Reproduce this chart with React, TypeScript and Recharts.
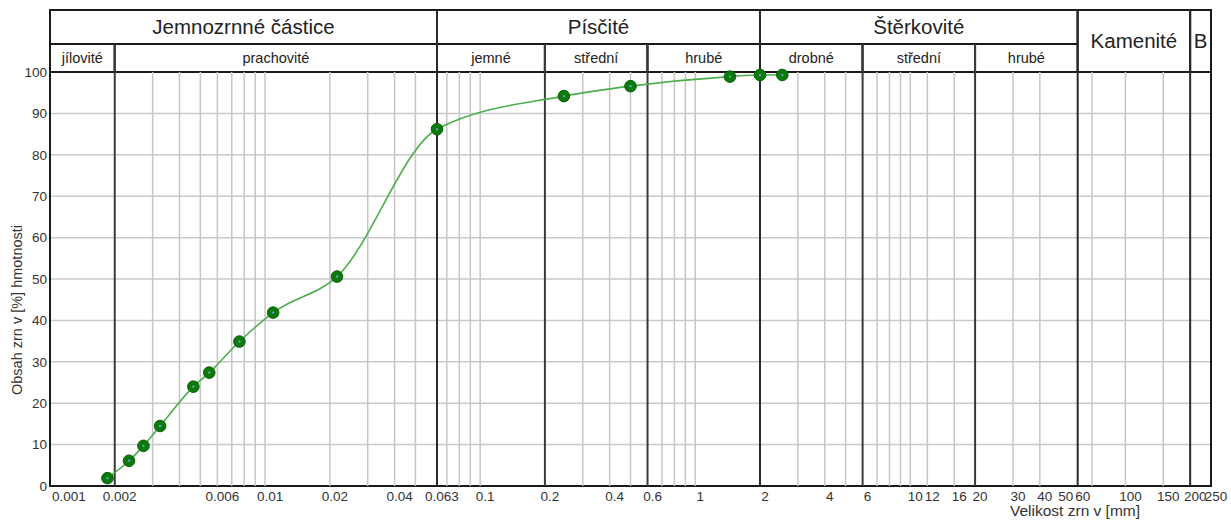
import {
  CartesianGrid,
  Line,
  LineChart,
  ReferenceArea,
  ReferenceLine,
  XAxis,
  YAxis,
} from "recharts";

// grain size [mm] and passing [% by mass]
const grainSizes = [
  0.00185, 0.00233, 0.00272, 0.00325, 0.00464, 0.0055, 0.0076, 0.0109, 0.0216,
  0.063, 0.245, 0.5, 1.45, 2, 2.54,
];
const passing = [
  1.9, 6.1, 9.7, 14.5, 24.0, 27.4, 34.9, 41.9, 50.6, 86.2, 94.2, 96.6, 98.9,
  99.3, 99.3,
];

const xTicks = [
  0.001, 0.002, 0.006, 0.01, 0.02, 0.04, 0.063, 0.1, 0.2, 0.4, 0.6, 1, 2, 4, 6,
  10, 12, 16, 20, 30, 40, 50, 60, 100, 150, 200, 250,
];
const yTicks = [0, 10, 20, 30, 40, 50, 60, 70, 80, 90, 100];

const minorLines = [
  0.003, 0.004, 0.005, 0.006, 0.007, 0.008, 0.009, 0.01, 0.02, 0.03, 0.04, 0.05,
  0.07, 0.08, 0.09, 0.1, 0.3, 0.4, 0.5, 0.7, 0.8, 0.9, 1, 3, 4, 5, 7, 8, 9, 10,
  12, 16, 30, 40, 70, 100, 150,
];
// boundaries that stop at the sub-header row / run through the whole header
const subBoundaries = [0.002, 0.2, 0.6, 6, 20];
const mainBoundaries = [0.063, 2, 60, 200];

const mainGroups = ["Jemnozrnné  částice", "Písčité", "Štěrkovité"];
const mainBounds = [
  [0.001, 0.063],
  [0.063, 2],
  [2, 60],
];
const subGroups = [
  "jílovité",
  "prachovité",
  "jemné",
  "střední",
  "hrubé",
  "drobné",
  "střední",
  "hrubé",
];
const subBounds = [
  [0.001, 0.002],
  [0.002, 0.063],
  [0.063, 0.2],
  [0.2, 0.6],
  [0.6, 2],
  [2, 6],
  [6, 20],
  [20, 60],
];
const tallGroups = ["Kamenité", "B"];
const tallBounds = [
  [60, 200],
  [200, 250],
];

const HEADER_TOP = 115;
const HEADER_MID = 106.8;
const X_MIN = 0.001;
const X_MAX = 250;

const data = grainSizes.map((size, i) => ({ size, pct: passing[i] }));

const FONT = '"Liberation Sans", Arial, sans-serif';
const INK = "#222";

function XTick({ x, y, payload, index }: any) {
  const first = index === 0;
  return (
    <text
      x={first ? x + 2 : x + 5}
      y={y}
      dy="0.8em"
      textAnchor={first ? "start" : "middle"}
      fontSize={13.5}
      fill="#333"
    >
      {String(payload.value)}
    </text>
  );
}

function Dot({ cx, cy, index }: any) {
  if (cx == null || cy == null) return null;
  return (
    <g key={index}>
      <circle cx={cx} cy={cy} r={5.8} fill="#0a7a0a" stroke="#066006" strokeWidth={1} />
      <circle cx={cx} cy={cy} r={1.2} fill="#6a9cc0" />
    </g>
  );
}

export default function App() {
  return (
    <div
      style={{
        position: "absolute",
        left: 0,
        top: 0,
        width: 1231,
        height: 522,
        background: "#fff",
        fontFamily: FONT,
      }}
    >
      <LineChart
        width={1231}
        height={522}
        data={data}
        margin={{ top: 10, right: 20, bottom: 0, left: 0 }}
      >
        <CartesianGrid vertical={false} stroke="#c9c9c9" strokeWidth={1.5} />
        <XAxis
          dataKey="size"
          type="number"
          scale="log"
          domain={[X_MIN, X_MAX]}
          allowDataOverflow
          ticks={xTicks}
          interval={0}
          height={36}
          axisLine={false}
          tickLine={false}
          tickSize={2}
          tickMargin={2}
          tick={<XTick />}
        />
        <YAxis
          type="number"
          domain={[0, HEADER_TOP]}
          ticks={yTicks}
          interval={0}
          width={50}
          axisLine={false}
          tickLine={false}
          tickSize={0}
          tickMargin={3}
          tick={{ fontSize: 13.5, fill: "#333" }}
        />

        {minorLines.map((v) => (
          <ReferenceLine
            key={`m${v}`}
            segment={[
              { x: v, y: 0 },
              { x: v, y: 100 },
            ]}
            stroke="#c6c6c6"
            strokeWidth={1.5}
          />
        ))}
        {subBoundaries.map((v) => (
          <ReferenceLine
            key={`s${v}`}
            segment={[
              { x: v, y: 0 },
              { x: v, y: HEADER_MID },
            ]}
            stroke="#3a3a3a"
            strokeWidth={2}
          />
        ))}
        {mainBoundaries.map((v) => (
          <ReferenceLine
            key={`b${v}`}
            segment={[
              { x: v, y: 0 },
              { x: v, y: HEADER_TOP },
            ]}
            stroke="#2a2a2a"
            strokeWidth={2}
          />
        ))}

        {mainGroups.map((name, i) => (
          <ReferenceArea
            key={`g${i}`}
            x1={mainBounds[i][0]}
            x2={mainBounds[i][1]}
            y1={HEADER_MID}
            y2={HEADER_TOP}
            fill="#fff"
            fillOpacity={1}
            stroke="#1a1a1a"
            strokeWidth={2}
            label={{ value: name, position: "center", fontSize: 20.5, fill: INK }}
          />
        ))}
        {subGroups.map((name, i) => (
          <ReferenceArea
            key={`sg${i}`}
            x1={subBounds[i][0]}
            x2={subBounds[i][1]}
            y1={100}
            y2={HEADER_MID}
            fill="#fff"
            fillOpacity={1}
            stroke="#1a1a1a"
            strokeWidth={2}
            label={{ value: name, position: "center", fontSize: 14.5, fill: INK }}
          />
        ))}
        {tallGroups.map((name, i) => (
          <ReferenceArea
            key={`t${i}`}
            x1={tallBounds[i][0]}
            x2={tallBounds[i][1]}
            y1={100}
            y2={HEADER_TOP}
            fill="#fff"
            fillOpacity={1}
            stroke="#1a1a1a"
            strokeWidth={2}
            label={{ value: name, position: "center", fontSize: 20.5, fill: INK }}
          />
        ))}
        <ReferenceArea
          x1={X_MIN}
          x2={X_MAX}
          y1={0}
          y2={HEADER_TOP}
          fill="none"
          stroke="#1a1a1a"
          strokeWidth={2}
        />

        <Line
          dataKey="pct"
          type="monotone"
          stroke="#4cae4c"
          strokeWidth={1.6}
          dot={<Dot />}
          activeDot={false}
          isAnimationActive={false}
        />
      </LineChart>

      <div
        style={{
          position: "absolute",
          left: 17,
          top: 310,
          transform: "translate(-50%, -50%) rotate(-90deg)",
          whiteSpace: "nowrap",
          fontSize: 14.5,
          color: "#333",
        }}
      >
        Obsah zrn v [%] hmotnosti
      </div>
      <div
        style={{
          position: "absolute",
          left: 1010,
          top: 502,
          whiteSpace: "nowrap",
          fontSize: 15.5,
          color: "#333",
        }}
      >
        Velikost zrn v [mm]
      </div>
    </div>
  );
}
